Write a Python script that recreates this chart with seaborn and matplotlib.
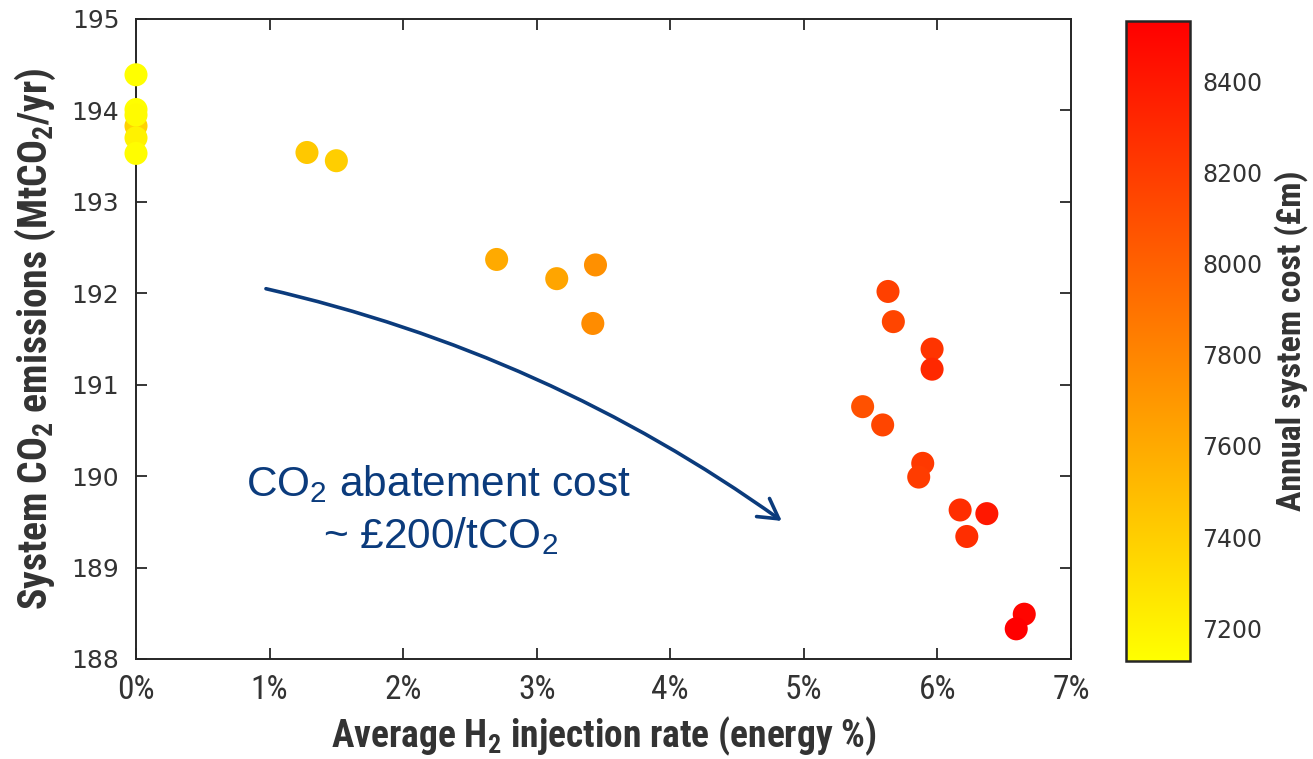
import matplotlib
matplotlib.use("Agg")
import matplotlib.pyplot as plt
import seaborn as sns
import numpy as np
import pandas as pd
from matplotlib import font_manager as fm
from matplotlib.colors import Normalize
from matplotlib.cm import ScalarMappable

# ---------------- data ----------------
h2_rate = [0.00, 0.00, 0.00, 0.00, 0.00, 0.00,
           1.28, 1.50,
           2.70, 3.15, 3.44, 3.42,
           5.63, 5.67, 5.96, 5.96, 5.44, 5.59, 5.89, 5.86,
           6.17, 6.37, 6.22, 6.65, 6.59]
emissions = [193.83, 194.39, 194.01, 193.95, 193.70, 193.53,
             193.54, 193.45,
             192.37, 192.16, 192.31, 191.67,
             192.02, 191.69, 191.39, 191.17, 190.76, 190.56, 190.14, 189.99,
             189.63, 189.59, 189.34, 188.49, 188.33]
annual_cost = [7370, 7128, 7135, 7150, 7200, 7140,
               7430, 7400,
               7596, 7624, 7740, 7762,
               8180, 8150, 8247, 8308, 8087, 8150, 8220, 8200,
               8280, 8400, 8280, 8505, 8533]

x_ticks = [0, 1, 2, 3, 4, 5, 6, 7]
x_tick_labels = ["0%", "1%", "2%", "3%", "4%", "5%", "6%", "7%"]
y_ticks = [188, 189, 190, 191, 192, 193, 194, 195]
cbar_ticks = [7200, 7400, 7600, 7800, 8000, 8200, 8400]

df = pd.DataFrame({"rate": h2_rate, "emis": emissions, "cost": annual_cost})

# ---------------- fonts ----------------
sns.set_style("ticks")
names = {f.name for f in fm.fontManager.ttflist}

def pick(cands, default="DejaVu Sans"):
    for c in cands:
        if c in names:
            return c
    return default

narrow = pick(["Liberation Sans Narrow", "Roboto Condensed", "Open Sans Condensed"], None)
if narrow is None:
    narrow = pick(["Liberation Sans", "Roboto"])
    nscale = 0.85
else:
    nscale = 1.0
arial = pick(["Liberation Sans", "Roboto"])
plt.rcParams["font.family"] = ["DejaVu Sans"]
plt.rcParams["mathtext.default"] = "regular"

dark = "#262626"
blue = "#0B3B7C"

fig = plt.figure(figsize=(13.13, 7.59), dpi=100)
W, H = 1313, 759
ax = fig.add_axes([136 / W, 1 - 659 / H, (1071 - 136) / W, (659 - 19) / H])
cax = fig.add_axes([1126 / W, 1 - 661 / H, (1190 - 1126) / W, (661 - 21) / H])

cmap = plt.get_cmap("autumn_r")
norm = Normalize(vmin=min(annual_cost), vmax=max(annual_cost))

sns.scatterplot(data=df, x="rate", y="emis", hue="cost", palette=cmap,
                hue_norm=norm, s=275, linewidth=0, legend=False, ax=ax,
                clip_on=False, zorder=3)

ax.set_xlim(0, 7)
ax.set_ylim(188, 195)
ax.set_xticks(x_ticks)
ax.set_xticklabels(x_tick_labels, fontfamily=narrow, fontsize=24 * nscale)
ax.set_yticks(y_ticks)
ax.set_yticklabels([str(v) for v in y_ticks], fontfamily="DejaVu Sans", fontsize=18)
ax.tick_params(axis="both", direction="in", length=8, width=1.3, colors=dark,
               labelcolor="#333333", top=True, right=True)
ax.tick_params(axis="x", pad=11)
ax.tick_params(axis="y", pad=12)
for sp in ax.spines.values():
    sp.set_visible(True)
    sp.set_linewidth(1.4)
    sp.set_color(dark)

ax.set_xlabel("Average H$_2$ injection rate (energy %)", fontfamily=narrow,
              fontweight="bold", fontsize=27 * nscale, color="#333333", labelpad=6)
ax.set_ylabel("System CO$_2$ emissions (MtCO$_2$/yr)", fontfamily=narrow,
              fontweight="bold", fontsize=28.5 * nscale, color="#333333", labelpad=10)

# annotation arrow + text
ax.annotate("", xy=(4.835, 189.51), xytext=(0.973, 192.05),
            arrowprops=dict(arrowstyle="->,head_length=0.7,head_width=0.4",
                            color=blue, lw=2.6, mutation_scale=20,
                            connectionstyle="arc3,rad=-0.1",
                            shrinkA=0, shrinkB=0))
ax.text(2.264, 189.786, "CO$_2$ abatement cost", ha="center", va="baseline",
        fontfamily=arial, fontsize=30.5, color=blue)
ax.text(2.283, 189.216, "~ £200/tCO$_2$", ha="center", va="baseline",
        fontfamily=arial, fontsize=30.5, color=blue)

# colorbar
sm = ScalarMappable(norm=norm, cmap=cmap)
sm.set_array([])
cb = fig.colorbar(sm, cax=cax, ticks=cbar_ticks)
cb.outline.set_linewidth(1.8)
cb.outline.set_edgecolor(dark)
cax.tick_params(direction="in", length=7, width=1.3, colors=dark,
                labelcolor="#333333", labelsize=17, pad=9)
for t in cax.get_yticklabels():
    t.set_fontfamily("DejaVu Sans")
cb.set_label("Annual system cost (£m)", fontfamily=narrow, fontweight="bold",
             fontsize=24.5 * nscale, color="#333333", labelpad=8)

fig.savefig("out.png", dpi=100, facecolor="white")
